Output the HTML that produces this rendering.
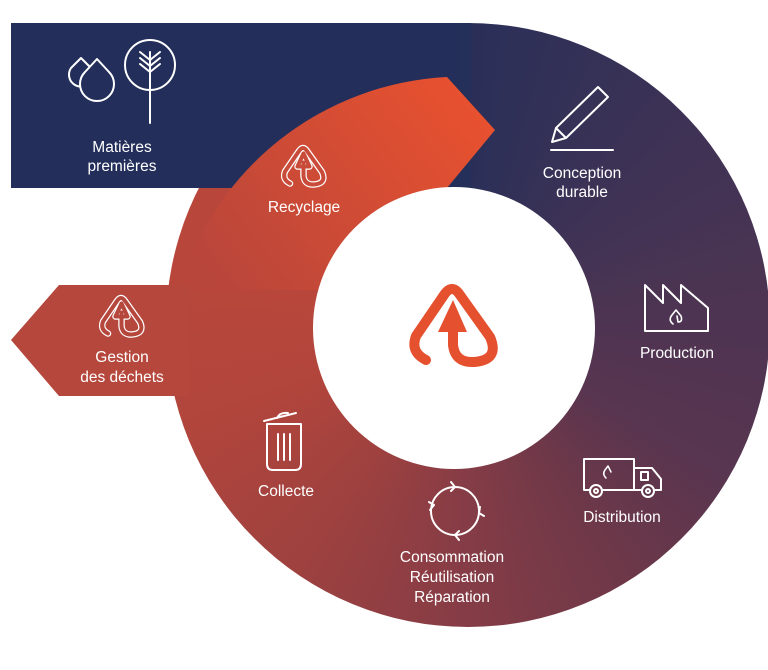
<!DOCTYPE html>
<html><head><meta charset="utf-8"><style>
html,body{margin:0;padding:0;background:#fff;}
body{width:768px;height:670px;position:relative;overflow:hidden;font-family:"Liberation Sans",sans-serif;}
#ring{position:absolute;left:166px;top:23px;width:604px;height:604px;border-radius:50%;
background:conic-gradient(from 0deg at 50% 50%,#2a2f58 0deg,#3b3256 40deg,#4c3452 85deg,#583550 120deg,#6f3848 150deg,#853c46 180deg,#9e413f 215deg,#b1453c 250deg,#b8463b 280deg,#bb473b 360deg);}
svg{position:absolute;left:0;top:0;}
text{font-family:"Liberation Sans",sans-serif;font-size:15.5px;fill:#fff;text-anchor:middle;}
</style></head><body>
<div id="ring"></div>
<svg width="768" height="670" viewBox="0 0 768 670">
<defs>
<linearGradient id="navy" x1="0" y1="0" x2="600" y2="0" gradientUnits="userSpaceOnUse">
<stop offset="0.75" stop-color="#232f5a"/>
<stop offset="1" stop-color="#2a2f58"/>
</linearGradient>
<linearGradient id="band" x1="240" y1="310" x2="490" y2="120" gradientUnits="userSpaceOnUse">
<stop offset="0" stop-color="#b9463b"/>
<stop offset="1" stop-color="#e8512f"/>
</linearGradient>
<g id="logo">
<path d="M426,360 Q410,352 416,336 L444,295 Q452,283 460,295 L490,337 Q500,360 474,362 Q455,363 453,345 L453,318"/>
<path d="M453,300 L441,326 L465,326 Z"/>
</g>
</defs>
<rect x="11" y="23" width="460" height="165" fill="url(#navy)"/>
<path d="M447,77 L495,130 L447,188 A141,141 0 0 0 320,290 L178,290 L180,287 A294,294 0 0 1 447,77 Z" fill="url(#band)"/>
<path d="M11,340 L59,285 L190,285 L190,396 L59,396 Z" fill="#b5473c"/>
<circle cx="454" cy="328" r="141" fill="#fff"/>

<g fill="none" stroke="#e5502f" stroke-width="10" stroke-linecap="round" stroke-linejoin="round">
<path d="M426,360 Q410,352 416,336 L444,295 Q452,283 460,295 L490,337 Q500,360 474,362 Q455,363 453,345 L453,330"/>
</g>
<polygon points="453,300 438,332 467,332" fill="#e5502f"/>

<g transform="translate(304,166) scale(0.5) translate(-454,-325)" fill="none" stroke-linecap="round" stroke-linejoin="round">
<use href="#logo" stroke="#fff" stroke-width="13"/>
<use href="#logo" stroke="#c94b39" stroke-width="8"/>
</g>
<g transform="translate(122,316) scale(0.5) translate(-454,-325)" fill="none" stroke-linecap="round" stroke-linejoin="round">
<use href="#logo" stroke="#fff" stroke-width="13"/>
<use href="#logo" stroke="#b5473c" stroke-width="8"/>
</g>

<g fill="none" stroke="#fff" stroke-width="2" stroke-linecap="round" stroke-linejoin="round">
<path d="M81,58 L71,68 A12,12 0 1 0 91,68 Z"/>
<path d="M97,59 L85,72 A17,17 0 1 0 109,72 Z" fill="#232f5a"/>
<circle cx="150" cy="65" r="25"/>
<line x1="150" y1="52" x2="150" y2="123"/>
<path d="M140,52 L150,60 L160,52 M140,58 L150,66 L160,58 M140,64 L150,72 L160,64"/>
<path d="M552,142 L556,128 L598,87 L608,97 L566,138 Z M556,128 L566,138"/>
<line x1="551" y1="150" x2="613" y2="150"/>
<path d="M645,331 V285 L663,303 V285 L681,303 V285 L708,308 V331 Z"/>
<path d="M673,324 Q668,320 672,315 L676,310 L681,316 Q683,322 678,322 L677,316" stroke-width="1.6"/>
<path d="M584,490 V459 H634 V490 Z M634,468 H652 L661,479 V490 H634"/>
<path d="M641,472 H648 V480 H641 Z"/>
<circle cx="596" cy="491" r="6" fill="#6c3848"/><circle cx="648" cy="491" r="6" fill="#5e3649"/>
<circle cx="596" cy="491" r="2"/><circle cx="648" cy="491" r="2"/>
<path d="M606,478 Q602,474 605,470 L608,466 L611,472" stroke-width="1.5"/>
<circle cx="455" cy="511" r="24"/>
<path d="M451,482 L455,487 L451,491 M480,507 L479,513 L484,516 M459,531 L455,535 L459,540 M430,510 L434,505 L429,502"/>
<path d="M267,424 H301 V464 Q301,470 295,470 H273 Q267,470 267,464 Z"/>
<line x1="264" y1="421" x2="296" y2="413"/>
<path d="M277,418 Q280,412 288,413"/>
<line x1="278" y1="434" x2="278" y2="460"/><line x1="284" y1="434" x2="284" y2="460"/><line x1="290" y1="434" x2="290" y2="460"/>
</g>

<text x="122" y="152">Matières</text>
<text x="122" y="171">premières</text>
<text x="304" y="212">Recyclage</text>
<text x="122" y="362">Gestion</text>
<text x="122" y="382">des déchets</text>
<text x="582" y="178">Conception</text>
<text x="582" y="197">durable</text>
<text x="677" y="358">Production</text>
<text x="622" y="522">Distribution</text>
<text x="286" y="496">Collecte</text>
<text x="452" y="562">Consommation</text>
<text x="452" y="582">Réutilisation</text>
<text x="452" y="602">Réparation</text>
</svg>
</body></html>
